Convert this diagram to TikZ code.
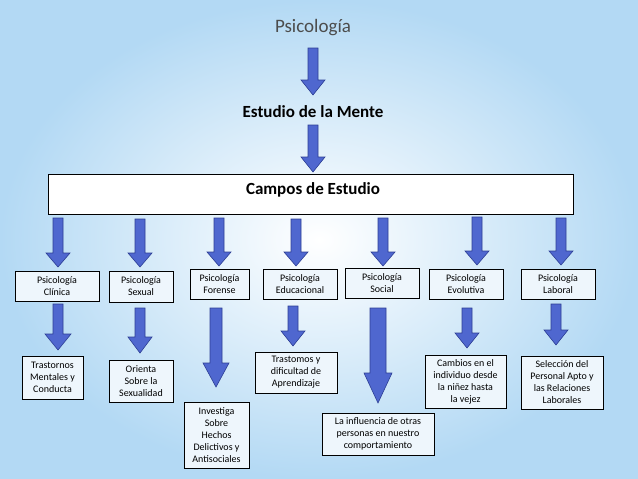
\documentclass[tikz,border=0pt]{standalone}
\usepackage{fontspec}
\setmainfont{Carlito}
\usetikzlibrary{positioning}
\definecolor{arrowfill}{HTML}{4F67CF}
\definecolor{arrowline}{HTML}{2D3F95}
\definecolor{boxfill}{HTML}{EEF6FC}
\definecolor{bgblue}{HTML}{B3D9F4}
% arrow: x, top y, bottom y, shaft half width, head half width, head height
\newcommand{\blockarrow}[6]{%
  \filldraw[fill=arrowfill,draw=arrowline,line width=.6pt]
    (#1-#4,#2) -- (#1+#4,#2) -- (#1+#4,#3-#6) -- (#1+#5,#3-#6)
    -- (#1,#3) -- (#1-#5,#3-#6) -- (#1-#4,#3-#6) -- cycle;}
\begin{document}
\begin{tikzpicture}[
      x=1pt, y=-1pt,
      field/.style={draw, fill=boxfill, line width=.6pt, inner sep=1pt,
        align=center, font=\fontsize{10}{12}\selectfont},
      heading/.style={font=\fontsize{17}{19}\selectfont\bfseries}]

    % background
    \useasboundingbox (0,0) rectangle (638,479);
    \shade[inner color=white, outer color=bgblue] (0,0) rectangle (638,479);

    % top levels
    \node (psico) at (313,28) {\fontsize{19}{21}\selectfont\color{black!70}Psicología};
    \node[heading] (mente) at (313,112) {Estudio de la Mente};
    \node[draw, fill=white, line width=.6pt, minimum width=525pt, minimum height=40pt,
      heading] (campos) at (310.5,194) {};
    \node[heading] at (313,190) {Campos de Estudio};
    \blockarrow{313}{48}{95}{5}{12}{15}
    \blockarrow{313}{125}{172}{5}{12}{15}

    % fields y=285
    \node[field, minimum width=84pt, minimum height=30pt] (clinica) at (57,286) {Psicología\\Clínica};
    \node[field, minimum width=64pt, minimum height=31pt] (sexual) at (141,286.5) {Psicología\\Sexual};
    \node[field, minimum width=59pt, minimum height=30pt] (forense) at (219.5,284) {Psicología\\Forense};
    \node[field, minimum width=74pt, minimum height=30pt] (educ) at (300,284) {Psicología\\Educacional};
    \node[field, minimum width=74pt, minimum height=30pt] (social) at (382,283) {Psicología\\Social};
    \node[field, minimum width=74pt, minimum height=30pt] (evol) at (466,284) {Psicología\\Evolutiva};
    \node[field, minimum width=74pt, minimum height=30pt] (laboral) at (558,284) {Psicología\\Laboral};

    % arrows to fields
    \blockarrow{58}{218}{267}{5}{12}{14}
    \blockarrow{140}{219}{267}{5}{12}{14}
    \blockarrow{219}{218}{266}{5}{12}{14}
    \blockarrow{296}{219}{266}{5}{12}{14}
    \blockarrow{383}{218}{266}{5}{12}{14}
    \blockarrow{477}{217}{265}{5}{12}{14}
    \blockarrow{561}{218}{265}{5}{12}{14}

    % descriptions
    \node[field, minimum width=61pt, minimum height=43pt] (trast) at (52.5,377.5) {Trastornos\\Mentales y\\Conducta};
    \node[field, minimum width=64pt, minimum height=42pt] (orienta) at (141,381) {Orienta\\Sobre la\\Sexualidad};
    \node[field, minimum width=65pt, minimum height=66pt] (investiga) at (216.5,435) {Investiga\\Sobre\\Hechos\\Delictivos y\\Antisociales};
    \node[field, minimum width=82pt, minimum height=41pt] (aprend) at (296,372.5) {Trastomos y\\dificultad de\\Aprendizaje};
    \node[field, minimum width=112pt, minimum height=42pt] (influ) at (378,434) {La influencia de otras\\personas en nuestro\\comportamiento};
    \node[field, minimum width=81pt, minimum height=53pt] (cambios) at (465.5,381.5) {Cambios en el\\individuo desde\\la niñez hasta\\la vejez};
    \node[field, minimum width=82pt, minimum height=53pt] (selec) at (562,382.5) {Selección del\\Personal Apto y\\las Relaciones\\Laborales};

    % arrows to descriptions
    \blockarrow{58}{304}{350}{5}{13}{16}
    \blockarrow{140}{308}{353}{5}{12}{16}
    \blockarrow{216}{308}{387}{6}{13}{24}
    \blockarrow{293}{306}{346}{5}{12}{15}
    \blockarrow{378}{308}{403}{8}{14}{30}
    \blockarrow{467}{308}{348}{5}{12}{15}
    \blockarrow{556}{304}{345}{5}{12}{15}

  \end{tikzpicture}
\end{document}
